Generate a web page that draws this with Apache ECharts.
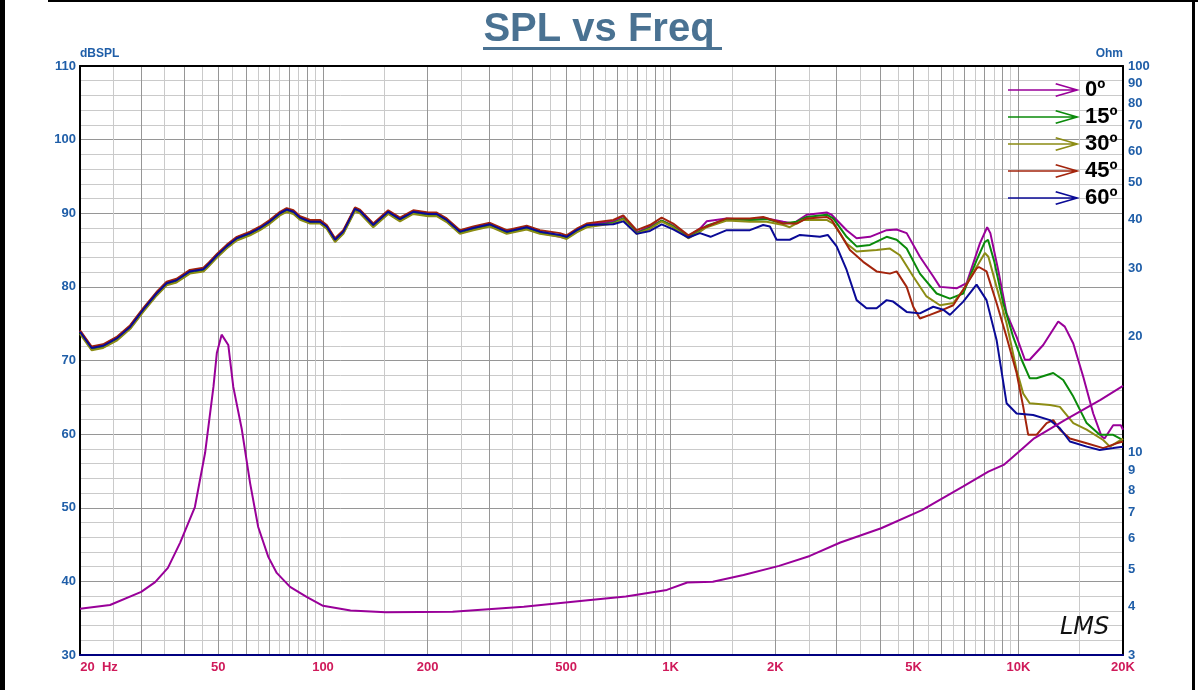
<!DOCTYPE html>
<html>
<head>
<meta charset="utf-8">
<script src="https://cdn.jsdelivr.net/npm/echarts@6/dist/echarts.min.js"></script>
<style>
html, body { margin: 0; padding: 0; background: #fff; }
#chart { width: 1198px; height: 690px; }
</style>
</head>
<body>
<div id="chart"></div>
<script>
// 角度名称与颜色
const angleNames = ['0º', '15º', '30º', '45º', '60º'];
const angleColors = ['#990099', '#0a8a0a', '#8c8c14', '#a3240c', '#0a0a96'];

// 低频段公共频点 (Hz)
const lowFreq = [20, 21.6, 23.3, 25.5, 27.9, 30.4, 33.2, 35.5, 37.9, 41.4, 45.3, 46.7, 49.6, 52.8, 56.5,
  61.7, 65.9, 70.4, 75.2, 78.6, 82.2, 85.9, 91.8, 98, 102.5, 108.3, 114.4, 123.6, 127.7, 139.5,
  154, 166.5, 181.8, 200.8, 212.3, 226.8, 247.7, 270.6, 302, 337.5, 385.3, 420.8, 480.5, 502, 536.6,
  573.3, 683.8, 730.5, 798, 871.8, 942, 1017, 1124, 1214];

// 各角度低频段 SPL (dB)
const spl0Low = [74.0, 71.8, 72.1, 73.1, 74.7, 77.0, 79.2, 80.6, 81.0, 82.2, 82.5, 83.1, 84.4, 85.6, 86.7,
  87.4, 88.1, 89.0, 90.1, 90.6, 90.3, 89.5, 89.0, 89.0, 88.3, 86.5, 87.6, 90.7, 90.4, 88.5,
  90.3, 89.3, 90.3, 90.0, 90.0, 89.2, 87.6, 88.0, 88.5, 87.4, 88.0, 87.3, 86.8, 86.6, 87.6,
  88.4, 88.9, 89.6, 87.4, 88.2, 89.0, 88.3, 86.9, 87.9];
const spl15Low = [73.8, 71.5, 71.8, 72.8, 74.4, 76.7, 78.9, 80.3, 80.7, 81.9, 82.2, 82.8, 84.1, 85.3, 86.4,
  87.1, 87.8, 88.7, 89.8, 90.3, 90.0, 89.2, 88.7, 88.7, 88.0, 86.2, 87.3, 90.4, 90.1, 88.2,
  90.0, 89.0, 90.0, 89.7, 89.7, 88.9, 87.3, 87.8, 88.3, 87.3, 87.9, 87.3, 86.9, 86.6, 87.5,
  88.2, 88.7, 89.3, 87.3, 88.0, 89.0, 88.2, 86.7, 87.6];
const spl30Low = [73.6, 71.4, 71.7, 72.7, 74.3, 76.6, 78.8, 80.2, 80.6, 81.8, 82.1, 82.7, 84.0, 85.2, 86.3,
  87.0, 87.7, 88.6, 89.7, 90.2, 89.9, 89.1, 88.6, 88.6, 87.9, 86.1, 87.2, 90.3, 90.0, 88.1,
  89.9, 88.9, 89.9, 89.6, 89.6, 88.8, 87.2, 87.7, 88.2, 87.2, 87.8, 87.2, 86.8, 86.5, 87.4,
  88.1, 88.6, 89.2, 87.2, 87.9, 88.9, 88.1, 86.6, 87.5];
const spl45Low = [74.1, 71.9, 72.2, 73.2, 74.8, 77.1, 79.3, 80.7, 81.1, 82.3, 82.6, 83.2, 84.5, 85.7, 86.8,
  87.5, 88.2, 89.1, 90.2, 90.7, 90.4, 89.6, 89.1, 89.1, 88.4, 86.6, 87.7, 90.8, 90.5, 88.6,
  90.4, 89.4, 90.4, 90.1, 90.1, 89.3, 87.7, 88.2, 88.7, 87.7, 88.3, 87.7, 87.3, 87.0, 87.9,
  88.6, 89.1, 89.7, 87.7, 88.4, 89.4, 88.6, 87.0, 87.9];
const spl60Low = [73.9, 71.7, 72.0, 73.0, 74.6, 76.9, 79.1, 80.5, 80.9, 82.1, 82.4, 83.0, 84.3, 85.5, 86.6,
  87.3, 88.0, 88.9, 90.0, 90.5, 90.2, 89.4, 88.85, 88.85, 88.2, 86.4, 87.5, 90.6, 90.3, 88.4,
  90.2, 89.2, 90.2, 89.9, 89.9, 89.1, 87.5, 88.0, 88.5, 87.5, 88.1, 87.5, 87.05, 86.8, 87.7,
  88.4, 88.5, 88.9, 87.2, 87.6, 88.5, 87.8, 86.7, 87.3];

// 各角度高频段 [Hz, dB]
const spl0High = [[1269, 88.9], [1449, 89.3], [1690, 89.1], [1888, 89.3], [2108, 88.85], [2250, 88.6],
  [2461, 89.8], [2810, 90.1], [2903, 89.8], [3207, 87.7], [3426, 86.6], [3742, 86.8], [4180, 87.7],
  [4466, 87.8], [4773, 87.3], [5211, 84.1], [5692, 81.4], [5950, 80.0], [6643, 79.8], [7097, 80.5],
  [7752, 85.9], [8135, 88.1], [8308, 87.3], [8750, 82.3], [9250, 76.4], [9886, 73.2], [10444, 70.1],
  [10780, 70.1], [11790, 72.1], [13024, 75.3], [13600, 74.6], [14390, 72.3], [15370, 67.8],
  [16420, 62.8], [17350, 59.7], [17700, 59.4], [18740, 61.2], [19720, 61.2], [20000, 60.6]];
const spl15High = [[1269, 88.3], [1449, 89.2], [1690, 89.1], [1888, 89.2], [2108, 88.6], [2303, 88.85],
  [2461, 89.5], [2810, 89.8], [2935, 89.3], [3207, 86.8], [3426, 85.5], [3742, 85.7], [4180, 86.8],
  [4466, 86.4], [4773, 85.2], [5211, 81.8], [5820, 79.1], [6357, 78.4], [6943, 79.1], [7583, 83.6],
  [8011, 86.1], [8180, 86.4], [8530, 83.4], [9046, 77.8], [9665, 73.2], [10220, 70.1], [10780, 67.6],
  [11280, 67.6], [12600, 68.3], [13460, 67.35], [14390, 65.1], [15720, 61.5], [17140, 59.9],
  [18740, 59.9], [20000, 59.2]];
const spl30High = [[1269, 88.1], [1449, 89.0], [1690, 88.85], [1888, 88.85], [2108, 88.4], [2200, 88.1],
  [2406, 89.1], [2810, 89.1], [2935, 88.6], [3207, 85.9], [3426, 84.8], [3911, 85.0], [4272, 85.2],
  [4565, 84.3], [4985, 81.4], [5443, 78.7], [5950, 77.5], [6497, 77.8], [6943, 79.6], [7583, 82.7],
  [8011, 84.6], [8200, 84.1], [8657, 80.0], [9250, 75.05], [9886, 68.7], [10330, 65.5], [10780, 64.2],
  [12330, 63.95], [13170, 63.7], [14390, 61.5], [15720, 60.6], [17540, 59.2], [18340, 58.3], [20000, 59.4]];
const spl45High = [[1269, 88.2], [1449, 89.3], [1690, 89.3], [1845, 89.5], [2108, 88.6], [2303, 88.6],
  [2461, 89.3], [2810, 89.5], [2903, 89.1], [3068, 87.3], [3278, 85.0], [3579, 83.4], [3911, 82.1],
  [4272, 81.8], [4466, 82.1], [4773, 80.0], [4985, 77.3], [5211, 75.7], [5567, 76.2], [6081, 76.9],
  [6497, 77.5], [6943, 79.6], [7583, 82.5], [7700, 82.7], [8100, 82.1], [8657, 77.8], [9250, 73.2],
  [9886, 68.3], [10330, 63.7], [10675, 59.9], [11280, 59.9], [12060, 61.5], [12600, 61.9], [13170, 60.6],
  [14070, 59.4], [15720, 58.75], [17540, 58.1], [19170, 58.75], [20000, 59.0]];
const spl60High = [[1302, 86.8], [1449, 87.7], [1690, 87.7], [1845, 88.4], [1930, 88.2], [2017, 86.4],
  [2200, 86.4], [2354, 87.05], [2688, 86.8], [2830, 87.05], [3002, 85.5], [3207, 82.3], [3426, 78.2],
  [3659, 77.1], [3911, 77.1], [4180, 78.2], [4365, 78.0], [4773, 76.6], [5211, 76.4], [5692, 77.3],
  [6081, 76.9], [6357, 76.2], [6943, 78.0], [7583, 80.3], [8100, 78.2], [8657, 72.8], [9250, 64.2],
  [9886, 62.8], [11030, 62.6], [12330, 61.9], [13170, 60.8], [14070, 59.0], [15720, 58.3], [17140, 57.85],
  [18740, 58.1], [20000, 58.3]];

// 阻抗曲线 [Hz, Ohm]
const impedance = [[20, 3.95], [24.4, 4.04], [30, 4.37], [32.9, 4.63], [35.8, 5.04], [38.8, 5.85],
  [42.8, 7.24], [45.8, 10.0], [48.4, 14.8], [49.5, 18.1], [51.1, 20.2], [53.4, 19.0], [55.2, 14.8],
  [58.4, 11.5], [61.7, 8.35], [65.1, 6.43], [69.6, 5.38], [73.6, 4.89], [80.4, 4.50], [89.7, 4.24],
  [100, 4.02], [120, 3.91], [151.7, 3.87], [236, 3.88], [378, 4.00], [568, 4.15], [743, 4.25],
  [975, 4.42], [1116, 4.62], [1322, 4.64], [1620, 4.83], [2051, 5.10], [2513, 5.41], [3076, 5.86],
  [4031, 6.38], [5281, 7.11], [6923, 8.18], [8199, 8.94], [9073, 9.30], [10036, 10.06], [11104, 10.9],
  [13600, 12.15], [17230, 13.7], [20000, 14.9]];

// 坐标轴刻度
const freqLabels = [20, 50, 100, 200, 500, 1000, 2000, 5000, 10000, 20000];
const freqLabelText = ['20  Hz', '50', '100', '200', '500', '1K', '2K', '5K', '10K', '20K'];
const gridMajor = [20, 30, 40, 50, 60, 70, 80, 90, 100, 200, 300, 400, 500, 600, 700, 800, 900,
  1000, 2000, 3000, 4000, 5000, 6000, 7000, 8000, 9000, 10000, 20000];
const gridMinor = [25, 35, 45, 55, 65, 75, 85, 95, 150, 250, 350, 450, 550, 650, 750, 850, 950,
  1500, 2500, 3500, 4500, 5500, 6500, 7500, 8500, 9500, 15000];
const ohmTicks = [3, 4, 5, 6, 7, 8, 9, 10, 20, 30, 40, 50, 60, 70, 80, 90, 100];

const sansFont = 'Arial, "Liberation Sans", sans-serif';
const axisBlue = '#1f5ea8';
const freqRed = '#cf1a5a';
const majorGrid = '#969696';
const minorGrid = '#cacaca';

// 图例箭头图标
const arrowIcon = 'path://M0,6.2 L68,6.2 L68,7.8 L0,7.8 Z M48,0 L72,7 L48,14 L47.4,12.5 L66.5,7 L47.4,1.5 Z';

const splLow = [spl0Low, spl15Low, spl30Low, spl45Low, spl60Low];
const splHigh = [spl0High, spl15High, spl30High, spl45High, spl60High];

const series = angleNames.map((name, k) => ({
    name: name,
    type: 'line',
    xAxisIndex: 0,
    yAxisIndex: 0,
    symbol: 'none',
    silent: true,
    lineStyle: { width: 2, color: angleColors[k] },
    itemStyle: { color: angleColors[k] },
    data: lowFreq.map((f, i) => [f, splLow[k][i]]).concat(splHigh[k])
}));

series.push({
    name: 'Impedance',
    type: 'line',
    xAxisIndex: 0,
    yAxisIndex: 1,
    symbol: 'none',
    silent: true,
    lineStyle: { width: 2, color: '#990099' },
    itemStyle: { color: '#990099' },
    data: impedance
});

const chart = echarts.init(document.getElementById('chart'));

const option = {
    animation: false,
    backgroundColor: '#fff',
    title: {
        text: 'SPL vs Freq',
        left: 'center',
        top: 5,
        textStyle: { fontSize: 40, fontWeight: 'bold', color: '#4a7292', fontFamily: sansFont }
    },
    grid: { left: 80, right: 75, top: 66, bottom: 35 },
    legend: {
        data: angleNames,
        orient: 'vertical',
        left: 1008,
        top: 79,
        padding: 0,
        itemWidth: 72,
        itemHeight: 14,
        itemGap: 5,
        icon: arrowIcon,
        selectedMode: false,
        textStyle: { fontSize: 22, fontWeight: 'bold', color: '#000', fontFamily: sansFont }
    },
    xAxis: [
        {
            type: 'log',
            logBase: 10,
            min: 20,
            max: 20000,
            position: 'bottom',
            axisLine: { show: true, onZero: false, lineStyle: { color: '#000080', width: 2 } },
            axisTick: { show: false, customValues: gridMajor },
            axisLabel: {
                customValues: freqLabels,
                margin: 6,
                color: freqRed,
                fontSize: 13,
                fontWeight: 'bold',
                fontFamily: sansFont,
                formatter: function (v) {
                    const i = freqLabels.findIndex(f => Math.abs(f - v) < f * 1e-6);
                    if (i === 0) return '{hz|' + freqLabelText[0] + '}';
                    return i >= 0 ? freqLabelText[i] : '';
                },
                rich: {
                    hz: { padding: [0, 0, 0, 38], color: freqRed, fontSize: 13, fontWeight: 'bold', fontFamily: sansFont }
                }
            },
            splitLine: { show: true, lineStyle: { color: majorGrid, width: 1 } }
        },
        {
            type: 'log',
            logBase: 10,
            min: 20,
            max: 20000,
            position: 'top',
            axisLine: { show: true, onZero: false, lineStyle: { color: '#000', width: 2 } },
            axisTick: { show: false, customValues: gridMinor },
            axisLabel: { show: false },
            splitLine: { show: true, lineStyle: { color: minorGrid, width: 1 } }
        }
    ],
    yAxis: [
        {
            type: 'value',
            min: 30,
            max: 110,
            interval: 10,
            position: 'left',
            name: 'dBSPL',
            nameLocation: 'end',
            nameGap: 5,
            nameTextStyle: { align: 'left', color: axisBlue, fontSize: 12, fontWeight: 'bold', fontFamily: sansFont },
            axisLine: { show: true, lineStyle: { color: '#000', width: 2 } },
            axisTick: { show: false },
            axisLabel: { margin: 4, color: axisBlue, fontSize: 13, fontWeight: 'bold', fontFamily: sansFont },
            splitLine: { show: true, lineStyle: { color: majorGrid, width: 1 } },
            minorTick: { show: false, splitNumber: 5 },
            minorSplitLine: { show: true, lineStyle: { color: minorGrid, width: 1 } }
        },
        {
            type: 'log',
            logBase: 10,
            min: 3,
            max: 100,
            position: 'right',
            name: 'Ohm',
            nameLocation: 'end',
            nameGap: 5,
            nameTextStyle: { align: 'right', color: axisBlue, fontSize: 12, fontWeight: 'bold', fontFamily: sansFont },
            axisLine: { show: true, lineStyle: { color: '#000', width: 2 } },
            axisTick: { show: false, customValues: ohmTicks },
            axisLabel: { customValues: ohmTicks, margin: 5, color: axisBlue, fontSize: 13, fontWeight: 'bold', fontFamily: sansFont },
            splitLine: { show: false }
        }
    ],
    graphic: [
        { type: 'rect', shape: { x: 483, y: 47, width: 239, height: 3 }, style: { fill: '#4a7292' } },
        { type: 'rect', shape: { x: 0, y: 0, width: 5, height: 690 }, style: { fill: '#000' } },
        { type: 'rect', shape: { x: 48, y: 0, width: 1150, height: 2 }, style: { fill: '#000' } },
        { type: 'rect', shape: { x: 1192, y: 0, width: 3, height: 690 }, style: { fill: '#000' } },
        {
            type: 'text', left: 1060, top: 616, z: 100,
            style: { text: 'LMS', font: 'italic 24px "DejaVu Sans"', fill: '#111' }
        }
    ],
    series: series
};

chart.setOption(option);
</script>
</body>
</html>
